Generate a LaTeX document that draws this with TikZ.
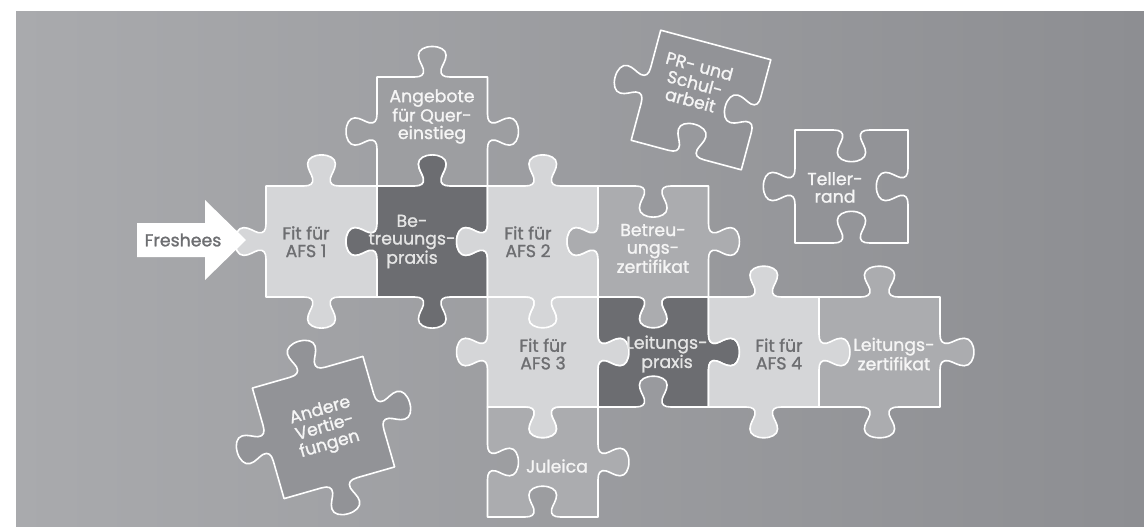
\documentclass[tikz,border=0pt]{standalone}
\usepackage{fontspec}
\setmainfont{Poppins}
\newfontfamily\pzfont{Poppins}[FakeBold=1.2]

\definecolor{bgleft}{HTML}{A9AAAD}
\definecolor{bgright}{HTML}{8D8E92}
\definecolor{pzlight}{HTML}{D5D6D8}
\definecolor{pzdark}{HTML}{6C6D71}
\definecolor{pzmid}{HTML}{ABACAF}
\definecolor{pzquer}{HTML}{9D9EA1}
\definecolor{pzloose}{HTML}{929397}
\definecolor{txtdark}{HTML}{6D6E71}

% one side of a piece, from (0,0) to (1,0); #1 = 1 knob, -1 hole, 0 flat
\newcommand\pzedge[1]{-- (0.34,0)
  .. controls (0.40,0) and (0.43,{0.02*(#1)}) .. (0.42,{0.07*(#1)})
  .. controls (0.41,{0.11*(#1)}) and (0.375,{0.15*(#1)}) .. (0.375,{0.20*(#1)})
  .. controls (0.375,{0.25*(#1)}) and (0.43,{0.28*(#1)}) .. (0.5,{0.28*(#1)})
  .. controls (0.57,{0.28*(#1)}) and (0.625,{0.25*(#1)}) .. (0.625,{0.20*(#1)})
  .. controls (0.625,{0.15*(#1)}) and (0.59,{0.11*(#1)}) .. (0.58,{0.07*(#1)})
  .. controls (0.57,{0.02*(#1)}) and (0.60,0) .. (0.66,0) -- (1,0)}

\begin{document}
\begin{tikzpicture}[x=0.75pt, y=0.75pt,
     pzline/.style = {draw=white, line width=1.2pt, line join=round},
     pztext/.style = {font=\pzfont\fontsize{13}{13.2}\selectfont, align=center, inner sep=0pt},
    onlight/.style = {pztext, text=txtdark},
     ondark/.style = {pztext, text=white!90!black},
      onmid/.style = {pztext, text=white!96!black},
 pics/piece/.style n args = {5}{code={
     \path[pzline, fill=#5] (-0.5,0.5)
        {[shift={(-0.5,0.5)}] \pzedge{#1}}
        {[shift={(0.5,0.5)}, rotate=-90] \pzedge{#2}}
        {[shift={(0.5,-0.5)}, rotate=180] \pzedge{#3}}
        {[shift={(-0.5,-0.5)}, rotate=90] \pzedge{#4}} -- cycle;}}
                        ]
\useasboundingbox (0,0) rectangle (1144,526);
\shade[left color=bgleft, right color=bgright] (16,0) rectangle (1144,514);
% the path
\pic[xscale=110.5, yscale=109] at (432.25,394.5) {piece={1}{1}{-1}{1}{pzquer}};
\pic[scale=111] at (321.5,284.5) {piece={1}{-1}{1}{1}{pzlight}};
\pic[xscale=110.5, yscale=111] at (432.25,284.5) {piece={1}{-1}{1}{1}{pzdark}};
\pic[xscale=110.5, yscale=111] at (542.75,284.5) {piece={1}{-1}{1}{1}{pzlight}};
\pic[xscale=110.5, yscale=111] at (653.25,284.5) {piece={-1}{1}{1}{1}{pzmid}};
\pic[xscale=110.5, yscale=110] at (542.75,174) {piece={-1}{1}{1}{1}{pzlight}};
\pic[xscale=110.5, yscale=110] at (653.25,174) {piece={-1}{1}{-1}{-1}{pzdark}};
\pic[xscale=121, yscale=110] at (879.5,174) {piece={1}{1}{1}{0}{pzmid}};
\pic[xscale=110.5, yscale=110] at (763.75,174) {piece={1}{1}{1}{-1}{pzlight}};
\pic[xscale=110.5, yscale=110] at (542.75,64) {piece={-1}{1}{-1}{-1}{pzmid}};
% loose pieces
\pic[rotate=-15, scale=114] at (701,426) {piece={0}{-1}{-1}{1}{pzloose}};
\pic[scale=113] at (851.5,339.5) {piece={-1}{-1}{-1}{1}{pzloose}};
\pic[rotate=16, scale=115] at (323.5,98.5) {piece={1}{1}{1}{1}{pzloose}};
% arrow
\fill[white] (137,269) -- (137,303) -- (205,303) -- (205,326) -- (246,286)
   -- (205,246) -- (205,269) -- cycle;

\node[onlight] (freshees) at (183,286) {Freshees};
\node[onmid] (quer) at (432,409.5) {Angebote\\für Quer-\\einstieg};
\node[onlight] (fit1) at (306,284.3) {Fit für\\AFS 1};
\node[ondark] (praxis1) at (412,284.5) {Be-\\treuungs-\\praxis};
\node[onlight] (fit2) at (528,284.3) {Fit für\\AFS 2};
\node[onmid] (zert1) at (653,277.5) {Betreu-\\ungs-\\zertifikat};
\node[onlight] (fit3) at (543,172) {Fit für\\AFS 3};
\node[ondark] (praxis2) at (667,172) {Leitungs-\\praxis};
\node[onlight] (fit4) at (779,172) {Fit für\\AFS 4};
\node[onmid] (zert2) at (894,172) {Leitungs-\\zertifikat};
\node[onmid] (juleica) at (557,60) {Juleica};
\node[onmid] (teller) at (835,338.5) {Teller-\\rand};
\node[onmid, rotate=-15] (prschul) at (695,443) {PR- und\\Schul-\\arbeit};
\node[onmid, rotate=16] (andere) at (325,98) {Andere\\Vertie-\\fungen};
\end{tikzpicture}
\end{document}
